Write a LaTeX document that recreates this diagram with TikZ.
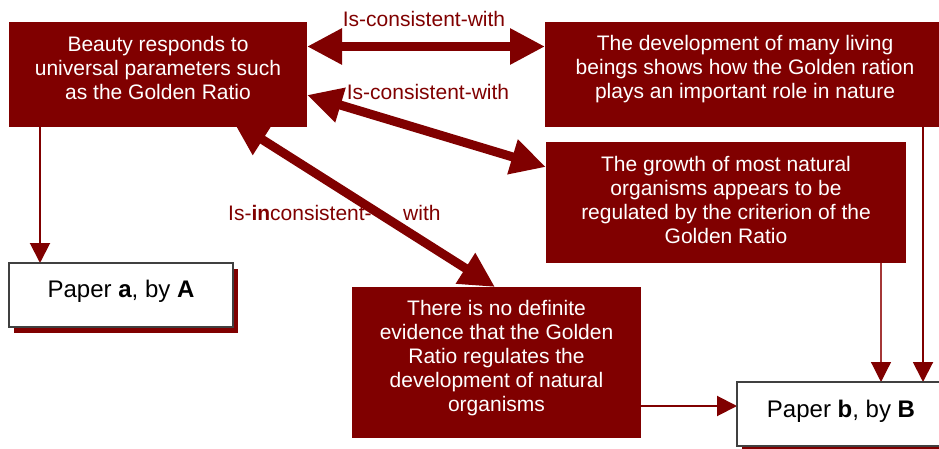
\documentclass[tikz,border=0pt]{standalone}
\usepackage{fontspec}
\setmainfont{Liberation Sans}
\usetikzlibrary{arrows.meta,calc}
\definecolor{maroon}{RGB}{128,0,0}
\definecolor{lightmaroon}{RGB}{165,55,55}
\definecolor{edgegray}{RGB}{64,64,64}
\pgfdeclarelayer{bg}
\pgfsetlayers{bg,main}
\begin{document}
\begin{tikzpicture}[x=1pt,y=-1pt,
  redbox/.style={draw=none,fill=maroon,inner sep=0pt,outer sep=0pt,anchor=north west},
  boxtext/.style={text=white,align=center,font=\fontsize{21}{24}\selectfont,inner sep=0pt},
  paper/.style={draw=edgegray,line width=1.5pt,fill=white,inner sep=0pt,outer sep=0pt,anchor=north west},
  shadowbox/.style={fill=maroon,draw=none,inner sep=0pt,outer sep=0pt,anchor=north west},
  papertext/.style={font=\fontsize{24}{28}\selectfont,inner sep=0pt,anchor=base},
  rel/.style={text=maroon,font=\fontsize{21}{24}\selectfont,inner sep=0pt},
  thickboth/.style={draw=maroon,line width=9pt,{Triangle[width=34pt,length=35pt]}-{Triangle[width=34pt,length=35pt]}},
  thinarrow/.style={draw=maroon,line width=2pt,-{Triangle[width=20pt,length=20pt]}},
  hairarrow/.style={draw=lightmaroon,line width=1.2pt,-{Triangle[width=20pt,length=20pt,color=maroon]}},
]
\useasboundingbox (0,0) rectangle (939,449);

% boxes
\node[redbox,minimum width=298pt,minimum height=105pt] (b1) at (9,22) {};
\node[redbox,minimum width=400pt,minimum height=105pt] (b2) at (545,22) {};
\node[redbox,minimum width=360pt,minimum height=121pt] (b3) at (546,142) {};
\node[redbox,minimum width=289pt,minimum height=151pt] (b4) at (352,287) {};

\node[boxtext] (t1) at (158,68.2) {Beauty responds to\\universal parameters such\\as the Golden Ratio};
\node[boxtext] (t2) at (745,69.3) {The development of many living\\beings shows how the Golden ration\\plays an important role in nature};
\node[boxtext] (t3) at (726,200.2) {The growth of most natural\\organisms appears to be\\regulated by the criterion of the\\Golden Ratio};
\node[boxtext] (t4) at (496.5,357.6) {There is no definite\\evidence that the Golden\\Ratio regulates the\\development of natural\\organisms};

% papers
\node[shadowbox,minimum width=224pt,minimum height=64pt] (sa) at (14,269) {};
\node[paper,minimum width=224pt,minimum height=64pt] (pa) at (9,263) {};
\node[papertext] (ta) at (121,297) {Paper \textbf{a}, by \textbf{A}};
\node[shadowbox,minimum width=208pt,minimum height=64pt] (sb) at (742,387) {};
\node[paper,minimum width=208pt,minimum height=64pt] (pb) at (737,382) {};
\node[papertext] (tb) at (841,417) {Paper \textbf{b}, by \textbf{B}};

% labels
\node[rel,anchor=base] (l1) at (424,26.7) {Is-consistent-with};
\node[rel,anchor=base] (l2) at (428,100) {Is-consistent-with};
\node[rel,anchor=base west] (l3) at (228,220) {Is-\textbf{in}consistent-\hspace{31.5pt}with};

% connector end points
\coordinate (a1s) at ($(b1.north east)+(0,24.5)$);
\coordinate (a1e) at ($(b2.north west)+(0,24.5)$);
\coordinate (a2s) at ($(b1.north east)+(0,73)$);
\coordinate (a2e) at ($(b3.north west)+(0,25)$);
\coordinate (a3s) at ($(b1.south west)+(224,-6)$);
\coordinate (a3e) at ($(b4.north west)+(143,0)$);
\coordinate (c1s) at ($(b1.south west)+(31,0)$);
\coordinate (c2s) at ($(b2.south west)+(378,0)$);
\coordinate (c3s) at ($(b3.south east)+(-25,0)$);
\coordinate (c4s) at ($(b4.north east)+(0,119)$);

\begin{pgfonlayer}{bg}
\draw[thickboth] (a1s) -- (a1e);
\draw[thickboth] (a2s) -- (a2e);
\draw[thickboth] (a3s) -- (a3e);
\draw[thinarrow] (c1s) -- (c1s |- pa.north);
\draw[thinarrow] (c2s) -- (c2s |- pb.north);
\draw[hairarrow] (c3s) -- (c3s |- pb.north);
\draw[thinarrow] (c4s) -- (c4s -| pb.west);
\end{pgfonlayer}
\end{tikzpicture}
\end{document}
